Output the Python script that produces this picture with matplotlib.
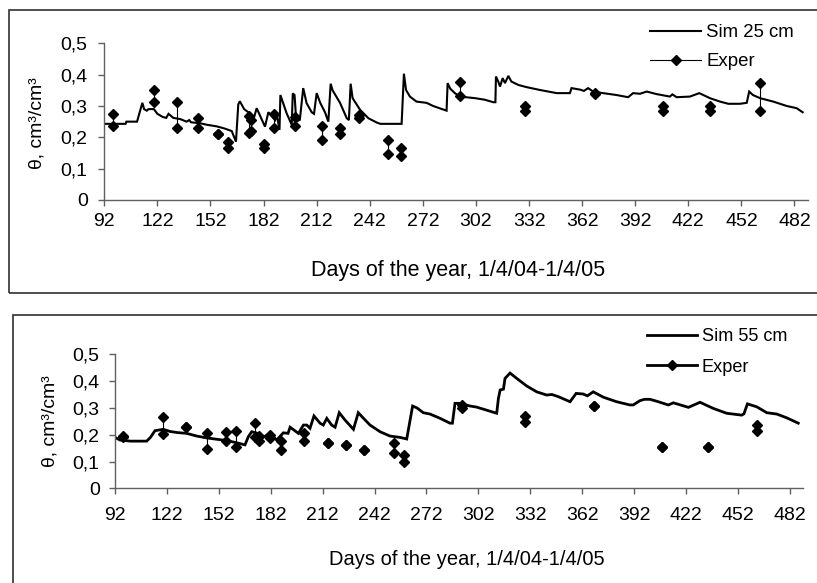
import numpy as np
import matplotlib.pyplot as plt
from matplotlib.lines import Line2D
from matplotlib.patches import Rectangle

plt.rcParams['font.family'] = ['Liberation Sans', 'DejaVu Sans']

# x tick labels (days), y tick labels
day_ticks = list(range(92, 483, 30))
theta_ticks = [0, 0.1, 0.2, 0.3, 0.4, 0.5]
theta_labels = ["0", "0,1", "0,2", "0,3", "0,4", "0,5"]

# ---- 25 cm : simulated
sim25_day = [92, 104, 104.5, 110.5, 112, 113.5, 114.5, 116, 117, 120, 122, 125, 127, 128.3, 131,
             135, 138.5, 140, 141, 146, 150, 155.5, 160, 164, 166.4, 167.7, 168.6, 171, 174.6,
             176.2, 178.1, 182.8, 184.7, 186, 188.5, 189.5, 191, 191.5, 195, 197.9, 198.5, 199.5,
             200.5, 202.5, 204.4, 206.3, 209.2, 210.5, 212, 214, 216.7, 218.6, 219.9, 221, 225.2,
             229, 230.2, 231.2, 232.3, 236.5, 241.2, 246, 248, 260, 261.3, 262.5, 264.7, 268.4,
             274.1, 277.8, 285.4, 286, 287.5, 290.1, 292.9, 301.4, 307, 311.8, 313, 313.3, 314.6,
             315.6, 317.1, 318.4, 320.3, 322, 326, 330.7, 338.2, 347.7, 355.1, 356, 361, 363,
             365.4, 368.2, 373.9, 381.4, 388, 390.8, 394.7, 398.5, 404, 411.6, 413, 415.4, 422.9,
             428.2, 434.2, 439.9, 444.6, 451.2, 455, 456.4, 458.5, 462.5, 470, 477.6, 483.2, 486.6]
sim25_theta = [0.243, 0.243, 0.25, 0.25, 0.28, 0.31, 0.29, 0.285, 0.29, 0.29, 0.275, 0.265, 0.262,
               0.275, 0.262, 0.258, 0.25, 0.255, 0.248, 0.245, 0.24, 0.235, 0.228, 0.22, 0.186,
               0.305, 0.315, 0.29, 0.275, 0.255, 0.293, 0.234, 0.28, 0.272, 0.255, 0.27, 0.224,
               0.335, 0.277, 0.24, 0.34, 0.335, 0.25, 0.256, 0.357, 0.309, 0.28, 0.275, 0.341,
               0.31, 0.28, 0.25, 0.371, 0.35, 0.31, 0.261, 0.255, 0.371, 0.325, 0.288, 0.261,
               0.247, 0.243, 0.243, 0.403, 0.351, 0.33, 0.314, 0.31, 0.3, 0.285, 0.373, 0.355,
               0.341, 0.33, 0.325, 0.32, 0.312, 0.312, 0.394, 0.378, 0.362, 0.389, 0.373, 0.396,
               0.378, 0.367, 0.36, 0.351, 0.341, 0.341, 0.357, 0.352, 0.348, 0.357, 0.346, 0.341,
               0.335, 0.328, 0.341, 0.339, 0.346, 0.338, 0.33, 0.337, 0.328, 0.33, 0.341, 0.325,
               0.314, 0.307, 0.307, 0.31, 0.346, 0.335, 0.325, 0.314, 0.3, 0.293, 0.28]

# ---- 25 cm : measured (two replicates per date)
exp25_day = [97, 120, 133, 145, 156.5, 162, 174, 175, 182.5, 188, 200, 215, 225, 236, 252.5,
             259.5, 293, 330, 369, 407.5, 434, 462.5]
exp25_hi = [0.275, 0.35, 0.312, 0.262, 0.212, 0.186, 0.268, 0.255, 0.179, 0.276, 0.265, 0.236,
            0.231, 0.272, 0.193, 0.167, 0.378, 0.300, 0.343, 0.300, 0.300, 0.373]
exp25_lo = [0.236, 0.312, 0.23, 0.23, 0.21, 0.166, 0.215, 0.22, 0.167, 0.23, 0.237, 0.192,
            0.211, 0.263, 0.146, 0.141, 0.331, 0.283, 0.337, 0.283, 0.283, 0.283]

# ---- 55 cm : simulated
sim55_day = [92, 94.9, 101, 110.3, 112.5, 115.1, 119.9, 123.8, 128, 133.4, 139.2, 145, 150.8,
             156.6, 162.3, 167.1, 169.1, 171, 174.5, 177.7, 181.6, 185.4, 189.3, 192, 193.2, 198,
             200.9, 202.8, 204.7, 207, 210.5, 212.4, 214.4, 217.2, 219.2, 221.6, 224.9, 229.8,
             232.6, 235.5, 239.4, 245.2, 250.9, 256.7, 260.6, 264, 266.5, 270.2, 274.1, 279.9,
             285.6, 287, 288.5, 291, 297.2, 301, 312.6, 313.6, 314.6, 316.5, 317.4, 320.3, 324.2,
             329.9, 335.7, 341.5, 344.5, 348.2, 355, 358.5, 362.5, 365, 368.4, 374.2, 381.9,
             389.6, 391.5, 395.4, 398, 401.2, 405, 411.8, 414.7, 423.4, 430.1, 437.8, 445.5,
             454.2, 455.5, 457.5, 462.9, 468.7, 474.5, 480.2, 486.9]
sim55_theta = [0.19, 0.18, 0.176, 0.176, 0.19, 0.215, 0.22, 0.212, 0.208, 0.205, 0.195, 0.188,
               0.183, 0.178, 0.17, 0.162, 0.193, 0.211, 0.205, 0.19, 0.205, 0.18, 0.207, 0.205,
               0.228, 0.205, 0.236, 0.236, 0.224, 0.27, 0.243, 0.236, 0.261, 0.236, 0.228, 0.282,
               0.255, 0.22, 0.282, 0.262, 0.236, 0.211, 0.195, 0.19, 0.184, 0.307, 0.3, 0.282,
               0.277, 0.261, 0.243, 0.243, 0.317, 0.317, 0.307, 0.303, 0.28, 0.336, 0.367, 0.37,
               0.41, 0.43, 0.41, 0.382, 0.36, 0.348, 0.35, 0.342, 0.323, 0.354, 0.352, 0.345,
               0.36, 0.34, 0.323, 0.311, 0.311, 0.327, 0.332, 0.332, 0.325, 0.311, 0.319, 0.302,
               0.321, 0.298, 0.28, 0.273, 0.278, 0.315, 0.304, 0.282, 0.277, 0.263, 0.243]

# ---- 55 cm : measured
exp55_day = [96.5, 120, 133, 145, 156, 162, 173, 175, 181.5, 188, 201, 215, 225.5, 236, 253.3,
             259, 292.4, 329, 369, 408.3, 435, 463]
exp55_hi = [0.196, 0.265, 0.229, 0.207, 0.21, 0.213, 0.243, 0.195, 0.2, 0.175, 0.205, 0.17,
            0.16, 0.143, 0.17, 0.125, 0.311, 0.27, 0.307, 0.155, 0.155, 0.235]
exp55_lo = [0.19, 0.202, 0.229, 0.145, 0.175, 0.155, 0.19, 0.178, 0.188, 0.143, 0.175, 0.17,
            0.16, 0.143, 0.133, 0.097, 0.3, 0.248, 0.307, 0.155, 0.155, 0.213]


def draw_panel(ax, sim_day, sim_theta, exp_day, exp_hi, exp_lo,
               sim_lw=1.5, ms=5.0, xtick_pad=3.5, ytick_pad=8.0):
    ax.plot(sim_day, sim_theta, color="k", linewidth=sim_lw, solid_joinstyle="miter")
    ax.vlines(exp_day, exp_lo, exp_hi, color="k", linewidth=0.8)
    ax.plot(exp_day, exp_hi, "D", color="k", ms=ms)
    ax.plot(exp_day, exp_lo, "D", color="k", ms=ms)

    ax.set_xlim(92, 489.8)
    ax.set_ylim(0, 0.5)
    ax.set_xticks(day_ticks)
    ax.set_xticklabels([str(d) for d in day_ticks])
    ax.set_yticks(theta_ticks)
    ax.set_yticklabels(theta_labels)

    for side in ["top", "right"]:
        ax.spines[side].set_visible(False)
    for side in ["left", "bottom"]:
        ax.spines[side].set_color("#606060")
        ax.spines[side].set_linewidth(1.0)
    ax.tick_params(axis="both", direction="out", length=4, width=1.0, color="#606060",
                   labelsize=14)
    ax.tick_params(axis="x", pad=xtick_pad)
    ax.tick_params(axis="y", pad=ytick_pad)
    ax.set_ylabel("θ, cm³/cm³", fontsize=14)
    ax.set_xlabel("Days of the year, 1/4/04-1/4/05")
    return ax


fig = plt.figure(figsize=(8.17, 5.83), dpi=100)

# frames around each chart
fig.patches.append(Rectangle((9 / 817, 1 - 293 / 583), 1.0, (293 - 10) / 583,
                             transform=fig.transFigure, fill=False,
                             edgecolor="#303030", linewidth=1.2))
fig.patches.append(Rectangle((13 / 817, -0.05), 1.0, 0.05 + 1 - 315 / 583,
                             transform=fig.transFigure, fill=False,
                             edgecolor="#303030", linewidth=1.2))

# top panel: 25 cm
ax1 = fig.add_axes([104.3 / 817, 1 - 200 / 583, (808.3 - 104.3) / 817, (200 - 43.3) / 583])
draw_panel(ax1, sim25_day, sim25_theta, exp25_day, exp25_hi, exp25_lo,
           sim_lw=1.5, ms=5.0, xtick_pad=5.5, ytick_pad=8.0)
ax1.xaxis.label.set_size(15.5)
ax1.xaxis.set_label_coords(0.502, -0.385)
ax1.yaxis.set_label_coords(-0.083, 0.49)
h1 = [Line2D([], [], color="k", lw=1.5),
      Line2D([], [], color="k", lw=0.8, marker="D", ms=5.0)]
ax1.legend(h1, ["Sim 25 cm", "Exper"], loc="upper left", frameon=False, fontsize=13.4,
           bbox_to_anchor=(650 / 817, 1 - 24 / 583), bbox_transform=fig.transFigure,
           borderpad=0, borderaxespad=0, handlelength=2.75, handletextpad=0.27,
           labelspacing=0.65)

# bottom panel: 55 cm
ax2 = fig.add_axes([115 / 817, 1 - 488.3 / 583, (803.3 - 115) / 817, (488.3 - 354.3) / 583])
draw_panel(ax2, sim55_day, sim55_theta, exp55_day, exp55_hi, exp55_lo,
           sim_lw=2.0, ms=5.5, xtick_pad=9.5, ytick_pad=7.0)
ax2.xaxis.label.set_size(14.5)
ax2.xaxis.set_label_coords(0.511, -0.46)
ax2.yaxis.set_label_coords(-0.082, 0.504)
h2 = [Line2D([], [], color="k", lw=2.0),
      Line2D([], [], color="k", lw=2.0, marker="D", ms=5.5)]
ax2.legend(h2, ["Sim 55 cm", "Exper"], loc="upper left", frameon=False, fontsize=13.1,
           bbox_to_anchor=(646.7 / 817, 1 - 328 / 583), bbox_transform=fig.transFigure,
           borderpad=0, borderaxespad=0, handlelength=2.75, handletextpad=0.27,
           labelspacing=0.75)

fig.savefig("out.png", dpi=100)
